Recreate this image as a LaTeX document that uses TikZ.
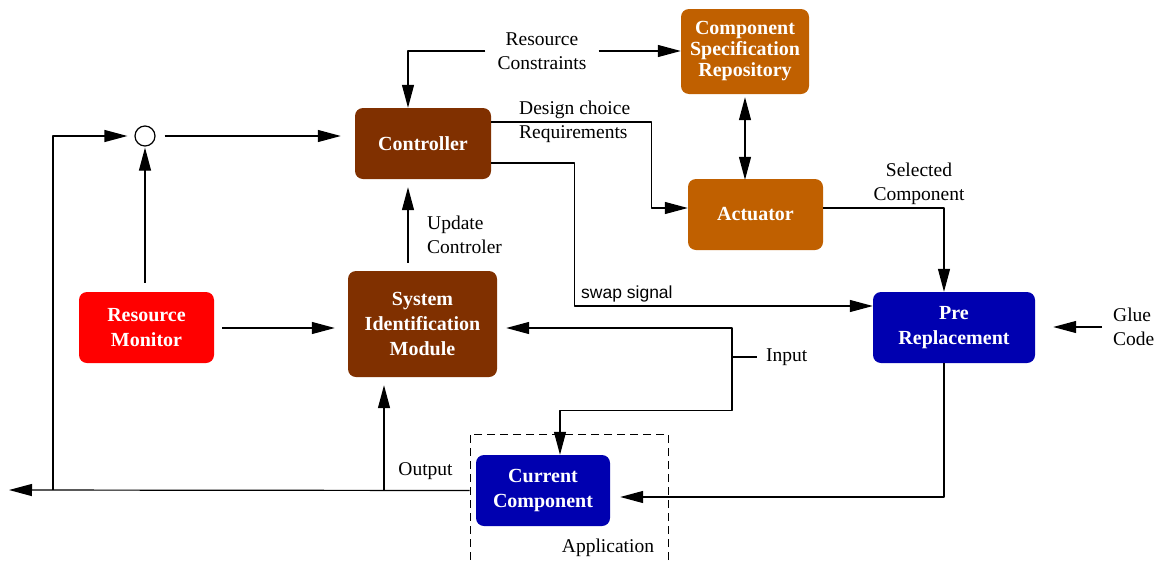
\documentclass[tikz,border=0pt]{standalone}
\usepackage{fontspec}
\setmainfont{Liberation Serif}
\setsansfont{Liberation Sans}
\usetikzlibrary{arrows.meta}

\definecolor{ctrlbrown}{RGB}{128,48,0}
\definecolor{actorange}{RGB}{192,96,0}
\definecolor{compblue}{RGB}{0,0,176}

\tikzset{
  blk/.style={rounded corners=8pt, text=white, align=center, inner sep=0pt,
    font=\fontsize{20}{25}\selectfont\bfseries},
  lbl/.style={align=center, inner sep=1pt, font=\fontsize{19.5}{24}\selectfont},
  wire/.style={line width=1.2pt},
  sig/.style={wire, -{Triangle[length=23pt,width=12pt]}},
}

\begin{document}
\begin{tikzpicture}[line join=round, x=1pt, y=-1pt]

                \clip (0,0) rectangle (1159,560);

                \node[blk, fill=ctrlbrown, minimum width=136pt, minimum height=71pt] (ctrl) at (423,143.5) {Controller};
                \node[blk, fill=actorange, minimum width=128pt, minimum height=85pt,
                      font=\fontsize{20}{21}\selectfont\bfseries] (csr) at (745,51.5) {Component\\Specification\\Repository};
                \node[blk, fill=actorange, minimum width=135pt, minimum height=71pt] (act) at (755.5,214.5) {Actuator};
                \node[blk, fill=red, minimum width=135pt, minimum height=71pt] (mon) at (146.5,327.5) {Resource\\Monitor};
                \node[blk, fill=ctrlbrown, minimum width=149pt, minimum height=106pt] (sim) at (422.5,324) {System\\Identification\\Module};
                \node[blk, fill=compblue, minimum width=162pt, minimum height=71pt] (pre) at (954,327.5) {Pre\\Replacement};
                \node[blk, fill=compblue, minimum width=134pt, minimum height=71pt] (cur) at (543,490.5) {Current\\Component};
                \node[draw, wire, circle, minimum size=20pt, inner sep=0pt] (sum) at (145,136) {};

                \node[draw, dash pattern=on 8pt off 5pt, line width=1pt, minimum width=198pt, minimum height=136pt] (app) at (569,502) {};
                \node[lbl] (applbl) at (608,548) {Application};

                \node[lbl, inner xsep=12pt] (rc) at (542,51) {Resource\\Constraints};
                \node[lbl, align=left, anchor=west] (dc) at (518,122) {Design choice\\Requirements};
                \node[lbl, align=left, anchor=west] (upd) at (426,235) {Update\\Controler};
                \node[lbl, inner sep=1pt, anchor=west, font=\sffamily\fontsize{17.5}{21}\selectfont] (swp) at (580,294) {swap signal};
                \node[lbl] (selc) at (919,184) {Selected\\Component};
                \node[lbl, align=left, anchor=west] (glue) at (1112,327) {Glue\\Code};
                \node[lbl, anchor=west] (inp) at (765,357) {Input};
                \node[lbl] (outl) at (425.5,471) {Output};

                \coordinate (jn) at (732,357);
                \coordinate (fb) at (53,490);
                \coordinate (sp) at (384,490);
                \coordinate (out) at (9,490);

                \draw[sig, shorten <=9pt, shorten >=14pt] (sum.east) -- (sum.east -| ctrl.west);
                \draw[sig, shorten <=9pt, shorten >=1pt] (mon.north -| sum) -- (sum.south);
                \draw[sig, shorten <=8pt, shorten >=13pt] ([yshift=-0.5pt]mon.east) -- ([yshift=-0.5pt]sim.west |- mon.east);
                \draw[sig, shorten <=8pt, shorten >=8pt] ([xshift=-14.5pt]sim.north) -- ([xshift=-14.5pt]sim.north |- ctrl.south);

                \draw[sig] (rc.west) -| ([xshift=-15pt]ctrl.north);
                \draw[sig] (rc.east) -- (rc.east -| csr.west);
                \draw[wire, {Triangle[length=23pt,width=12pt]}-{Triangle[length=23pt,width=12pt]}] ([yshift=-3pt]csr.south) -- ([yshift=-1pt]act.north -| csr.south);

                \draw[sig] ([yshift=21.5pt]ctrl.east) -| ([xshift=-36pt,yshift=6.5pt]act.west) -- ([yshift=6.5pt]act.west);
                \draw[sig] ([yshift=-19.5pt]ctrl.east) -| ([xshift=-298pt,yshift=21.5pt]pre.west) -- ([yshift=21.5pt]pre.west);
                \draw[sig] ([yshift=6.5pt]act.east) -| ([xshift=-10pt]pre.north);

                \draw[sig, shorten <=10pt, shorten >=18pt] (glue.west) -- (pre.east |- glue.west);

                \draw[wire, shorten >=8pt] (jn) -- (inp.west);
                \draw[sig, shorten >=9pt] (jn) |- ([yshift=-4pt]sim.east);
                \draw[sig] (jn) |- ([xshift=17pt,yshift=44pt]cur.north) -- ([xshift=17pt]cur.north);
                \draw[sig, shorten >=10pt] ([xshift=-10pt]pre.south) |- ([yshift=-6.5pt]cur.east);

                \draw[sig] (app.west |- cur.west) -- (out);
                \draw[sig, shorten >=7pt] (fb) |- (sum.west);
                \draw[sig, shorten >=8pt] (sp) -- (sp |- sim.south);

\end{tikzpicture}
\end{document}
